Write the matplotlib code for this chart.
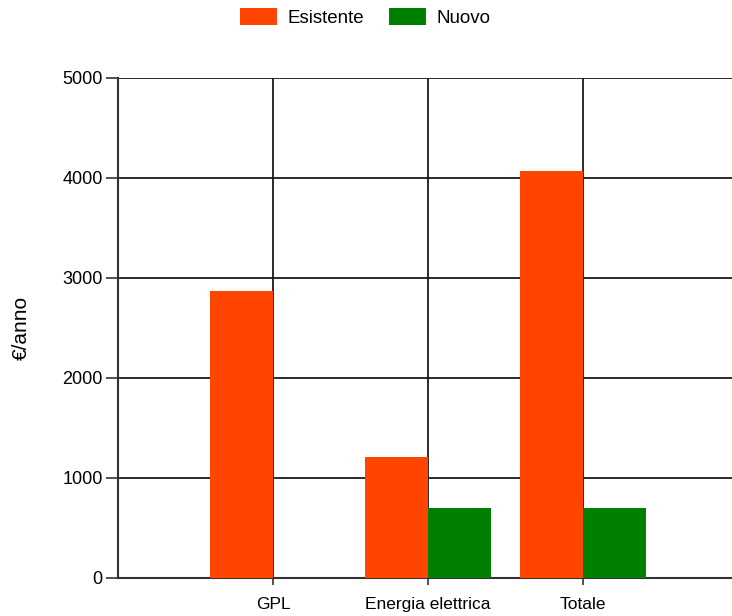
import numpy as np
from matplotlib import pyplot as plt
from matplotlib.patches import Patch

categories = ["GPL", "Energia elettrica", "Totale"]
esistente = [2869, 1205, 4074]
nuovo = [0, 694, 694]
y_ticks = [0, 1000, 2000, 3000, 4000, 5000]

plt.rcParams["font.family"] = ["Liberation Sans", "DejaVu Sans"]

fig = plt.figure(figsize=(7.32, 6.16), dpi=100)
ax = fig.add_axes([0.1612, 0.0622, 0.8388, 0.8112])

x = np.arange(1, len(categories) + 1)
width = 0.405
ax.bar(x - width / 2, esistente, width, color="#FF4500", zorder=3)
ax.bar(x + width / 2, nuovo, width, color="#008000", zorder=3)

ax.set_xlim(0, 3.96)
ax.set_ylim(0, 5000)
ax.set_yticks(y_ticks)
ax.set_xticks(x)
ax.set_xticklabels(categories, fontsize=12.5)
ax.tick_params(axis="x", length=5, width=1.2, color="#333333", pad=9)
ax.tick_params(axis="y", length=9, width=1.2, color="#333333", labelsize=13, pad=2)

# Grid drawn behind bars
ax.grid(True, color="#1a1a1a", linewidth=1.3, zorder=0)
ax.set_axisbelow(True)

for side in ["top", "right"]:
    ax.spines[side].set_visible(False)
for side in ["left", "bottom"]:
    ax.spines[side].set_color("#333333")
    ax.spines[side].set_linewidth(1.5)

ax.set_ylabel("€/anno", fontsize=15, labelpad=23)

handles = [Patch(facecolor="#FF4500", label="Esistente"),
           Patch(facecolor="#008000", label="Nuovo")]
fig.legend(handles=handles, loc="upper center", bbox_to_anchor=(0.499, 1.014), ncol=2,
           frameon=False, fontsize=13.5, handlelength=2.0, handleheight=1.0,
           columnspacing=1.3, handletextpad=0.55)

fig.savefig("out.png", dpi=100)
